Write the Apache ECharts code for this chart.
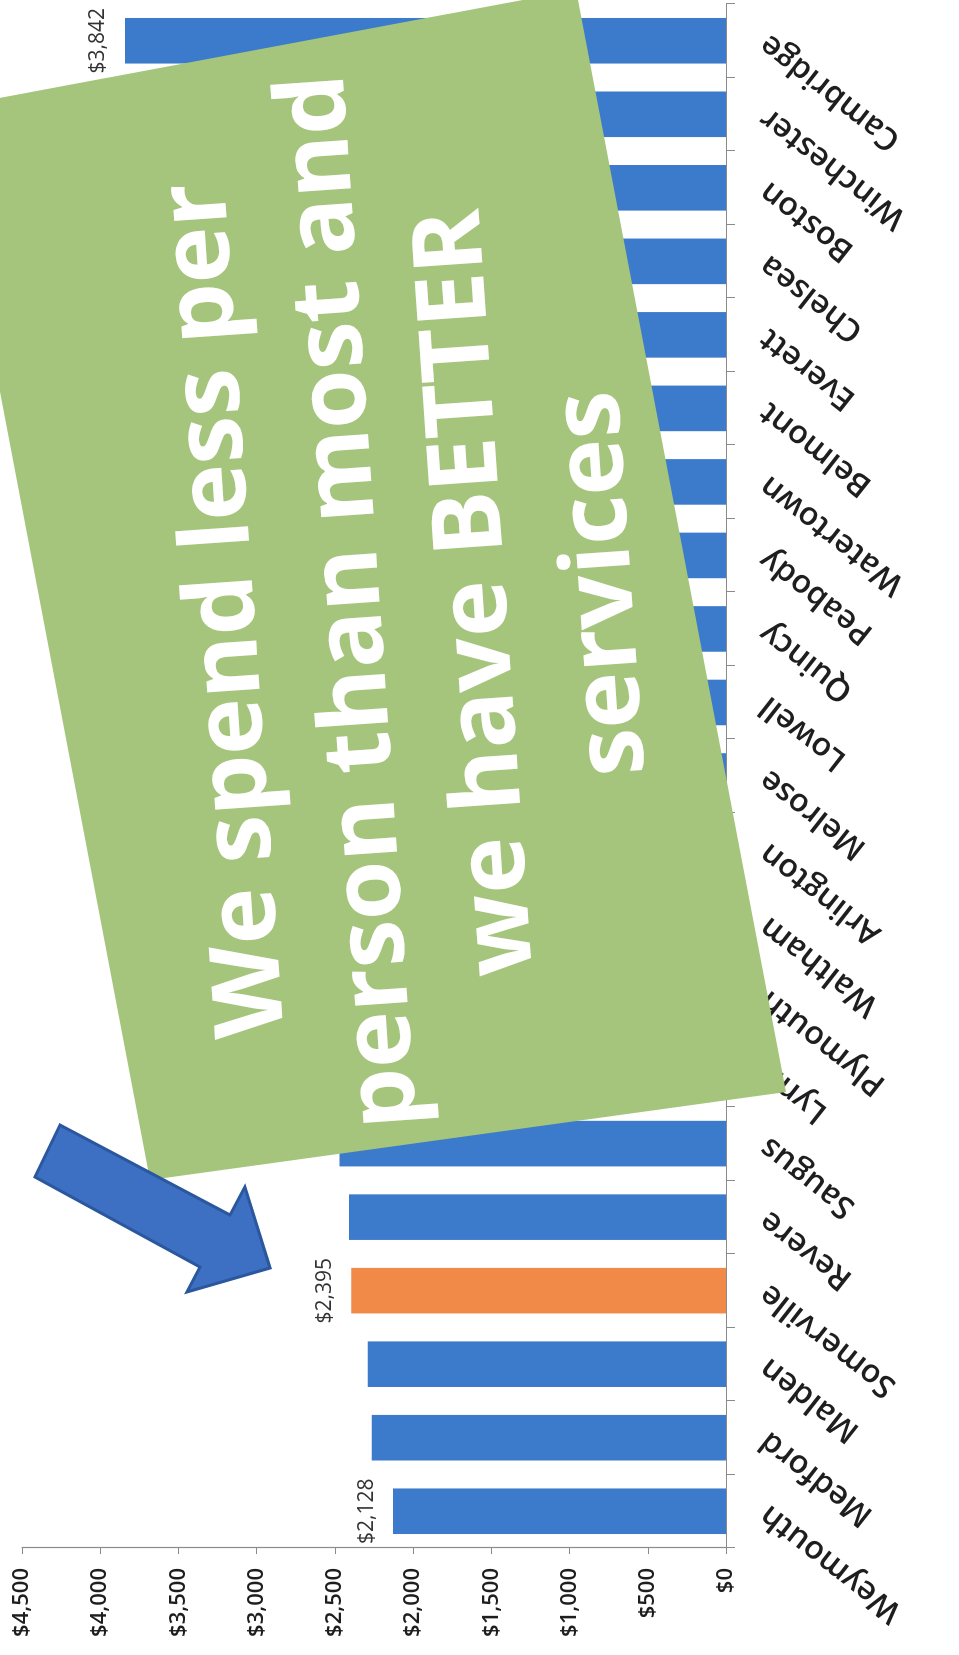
<!DOCTYPE html>
<html>
<head>
<meta charset="utf-8">
<script src="https://cdn.jsdelivr.net/npm/echarts@6/dist/echarts.min.js"></script>
<style>
  html, body { margin: 0; padding: 0; background: #ffffff; }
  #page { position: relative; width: 959px; height: 1655px; overflow: hidden; background: #ffffff; }
  /* the printed chart lies on its side: build it upright, then turn it a quarter turn counter-clockwise */
  #chart {
    position: absolute; left: 0; top: 0;
    width: 1655px; height: 959px;
    transform-origin: 0 0;
    transform: translate(0, 1655px) rotate(-90deg);
  }
</style>
</head>
<body>
<div id="page"><div id="chart"></div></div>
<script>
// Spending per person, by city
const categories = ['Weymouth', 'Medford', 'Malden', 'Somerville', 'Revere', 'Saugus', 'Lynn',
  'Plymouth', 'Waltham', 'Arlington', 'Melrose', 'Lowell', 'Quincy', 'Peabody', 'Watertown',
  'Belmont', 'Everett', 'Chelsea', 'Boston', 'Winchester', 'Cambridge'];
const spending = [2128, 2265, 2290, 2395, 2410, 2470, 2530, 2575, 2640, 2690, 2735, 2790,
  2860, 2915, 2990, 3060, 3150, 3240, 3390, 3560, 3842];
const labeledCities = ['Weymouth', 'Somerville', 'Cambridge'];
const highlightCity = 'Somerville';

// value axis ticks
const axisMin = 0;
const axisMax = 4500;
const axisStep = 500;

// callout text
const calloutLines = ['We spend less per', 'person than most and', 'we have BETTER', 'services'];

const BLUE = '#3c7acb';
const ORANGE = '#f18a48';
const GREEN = '#a5c57c';

function dollars(v) {
  return '$' + Number(v).toLocaleString('en-US');
}

const chart = echarts.init(document.getElementById('chart'), null, {
  renderer: 'canvas', width: 1655, height: 959
});

const barData = spending.map((v, i) => {
  const city = categories[i];
  return {
    value: v,
    itemStyle: { color: city === highlightCity ? ORANGE : BLUE },
    label: { show: labeledCities.includes(city) }
  };
});

const deg = Math.PI / 180;

chart.setOption({
  animation: false,
  backgroundColor: '#ffffff',
  grid: { left: 107, right: 4, top: 22, bottom: 233, outerBoundsMode: 'none' },
  xAxis: {
    type: 'category',
    data: categories,
    axisLine: { show: true, lineStyle: { color: '#8a8a8a', width: 1.2 } },
    axisTick: { show: true, length: 9, lineStyle: { color: '#8a8a8a' } },
    axisLabel: {
      interval: 0,
      rotate: 52,
      margin: 38,
      fontFamily: 'Open Sans',
      fontSize: 32,
      fontWeight: 600,
      color: '#1e1e1e'
    }
  },
  yAxis: {
    type: 'value',
    min: axisMin,
    max: axisMax,
    interval: axisStep,
    axisLine: { show: true, lineStyle: { color: '#8a8a8a', width: 1.2 } },
    axisTick: { show: true, length: 6, lineStyle: { color: '#8a8a8a' } },
    splitLine: { show: false },
    axisLabel: {
      margin: 20,
      fontFamily: 'Open Sans',
      fontSize: 22,
      fontWeight: 600,
      color: '#1e1e1e',
      formatter: dollars
    }
  },
  series: [{
    type: 'bar',
    data: barData,
    barCategoryGap: '38%',
    label: {
      position: 'top',
      distance: 16,
      fontFamily: 'Open Sans',
      fontSize: 21,
      color: '#333333',
      formatter: p => dollars(p.value)
    }
  }],
  graphic: [
    {
      // green callout card, slightly askew
      type: 'polygon',
      z: 100,
      shape: { points: [[1547, -54], [1665, 576], [563, 786], [475, 150]] },
      style: { fill: GREEN }
    },
    {
      type: 'text',
      z: 101,
      x: 1058, y: 415,
      rotation: 4 * deg,
      style: {
        text: calloutLines.join('\n'),
        x: 0, y: 0,
        align: 'center',
        verticalAlign: 'middle',
        fontFamily: 'Open Sans',
        fontWeight: 'bold',
        fontSize: 96,
        lineHeight: 126,
        fill: '#ffffff'
      }
    },
    {
      // pointer arrow
      type: 'polygon',
      z: 102,
      shape: {
        points: [[530, 60], [478, 35], [388, 200], [363, 187], [387, 270], [468, 245], [440, 230]]
      },
      style: { fill: '#3d70c2', stroke: '#2a579e', lineWidth: 3 }
    }
  ]
});
</script>
</body>
</html>
